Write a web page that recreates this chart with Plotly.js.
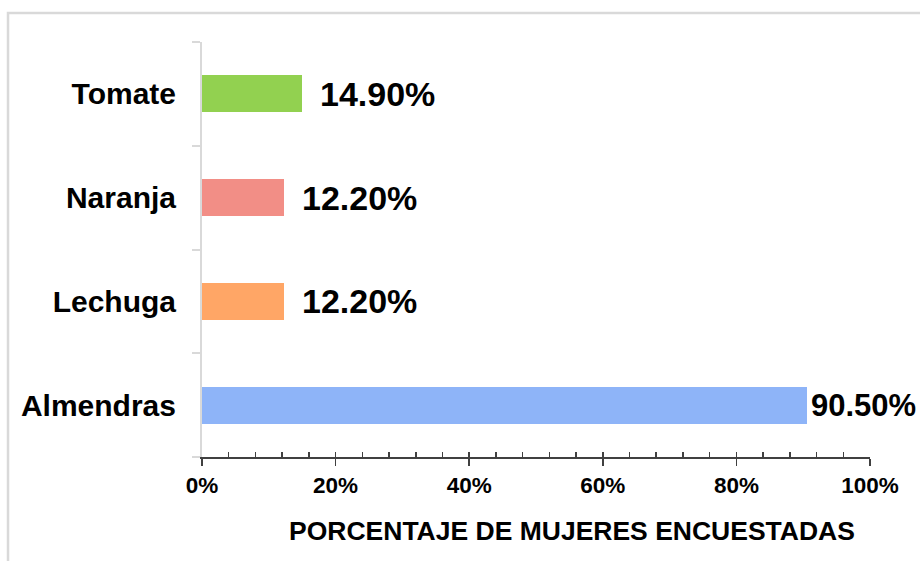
<!DOCTYPE html>
<html>
<head>
<meta charset="utf-8">
<script src="https://cdn.plot.ly/plotly-3.0.1.min.js"></script>
<style>html,body{margin:0;padding:0;background:#fff;}#chart{width:920px;height:561px;}</style>
</head>
<body>
<div id="chart"></div>
<script>
const categories = ["Almendras", "Lechuga", "Naranja", "Tomate"];
const values = [90.5, 12.2, 12.2, 14.9];
const labels = ["90.50%", "12.20%", "12.20%", "14.90%"];
const barColors = ["#8EB4F8", "#FFA666", "#F28E86", "#92D150"];
const labelShift = [3, 17, 17, 17];
const labelSize = [31, 34, 34, 34];
const xTickVals = [0, 20, 40, 60, 80, 100];
const xTickText = ["0%", "20%", "40%", "60%", "80%", "100%"];
const xTitle = "PORCENTAJE DE MUJERES ENCUESTADAS";

const FONT = "Liberation Sans, Arial, sans-serif";

const traces = [{
  type: "bar",
  orientation: "h",
  x: values,
  y: categories,
  width: 0.355,
  marker: {color: barColors, line: {width: 0}},
  hoverinfo: "none",
  showlegend: false
}, {
  type: "scatter",
  x: [0, 100],
  y: [categories[0], categories[0]],
  xaxis: "x2",
  mode: "markers",
  marker: {opacity: 0},
  hoverinfo: "none",
  showlegend: false
}];

const annotations = categories.map((c, i) => ({
  x: values[i], y: c, xref: "x", yref: "y",
  text: labels[i], showarrow: false,
  xanchor: "left", yanchor: "middle",
  xshift: labelShift[i],
  borderpad: 0,
  font: {family: FONT, size: labelSize[i], color: "#000", weight: "bold"}
}));
annotations.push({
  x: 0.554, y: -0.179, xref: "paper", yref: "paper",
  text: xTitle, showarrow: false,
  xanchor: "center", yanchor: "middle",
  font: {family: FONT, size: 26.5, color: "#000", weight: "bold"}
});

const layout = {
  width: 920, height: 561,
  margin: {l: 202, r: 50, t: 42, b: 104},
  paper_bgcolor: "#fff",
  plot_bgcolor: "#fff",
  bargap: 0,
  xaxis: {
    range: [0, 100],
    tickvals: xTickVals,
    ticktext: xTickText,
    ticks: "outside",
    ticklen: 7,
    tickwidth: 1.5,
    tickcolor: "#404040",
    showline: true,
    linecolor: "#404040",
    linewidth: 1.5,
    showgrid: false,
    zeroline: false,
    fixedrange: true,
    ticklabelstandoff: 0,
    tickfont: {family: FONT, size: 22.5, color: "#000", weight: "bold"}
  },
  xaxis2: {
    overlaying: "x",
    side: "bottom",
    range: [0, 100],
    dtick: 4,
    tick0: 0,
    ticks: "inside",
    ticklen: 5,
    tickwidth: 1.5,
    tickcolor: "#404040",
    showticklabels: false,
    showgrid: false,
    zeroline: false,
    showline: false,
    fixedrange: true
  },
  yaxis: {
    type: "category",
    categoryorder: "array",
    categoryarray: categories,
    range: [-0.5, 3.5],
    tickson: "boundaries",
    ticks: "outside",
    ticklen: 8,
    tickwidth: 2,
    tickcolor: "#d9d9d9",
    showline: true,
    linecolor: "#d9d9d9",
    linewidth: 2,
    showgrid: false,
    zeroline: false,
    fixedrange: true,
    ticklabelstandoff: 18,
    tickfont: {family: FONT, size: 30, color: "#000", weight: "bold"}
  },
  annotations: annotations,
  shapes: [{
    type: "rect", xref: "paper", yref: "paper",
    x0: -0.2904, x1: 1.3, y0: -0.5, y1: 1.0699,
    line: {color: "#d9d9d9", width: 2.5},
    fillcolor: "rgba(0,0,0,0)",
    layer: "below"
  }]
};

Plotly.newPlot("chart", traces, layout, {displayModeBar: false, staticPlot: true});
</script>
</body>
</html>
